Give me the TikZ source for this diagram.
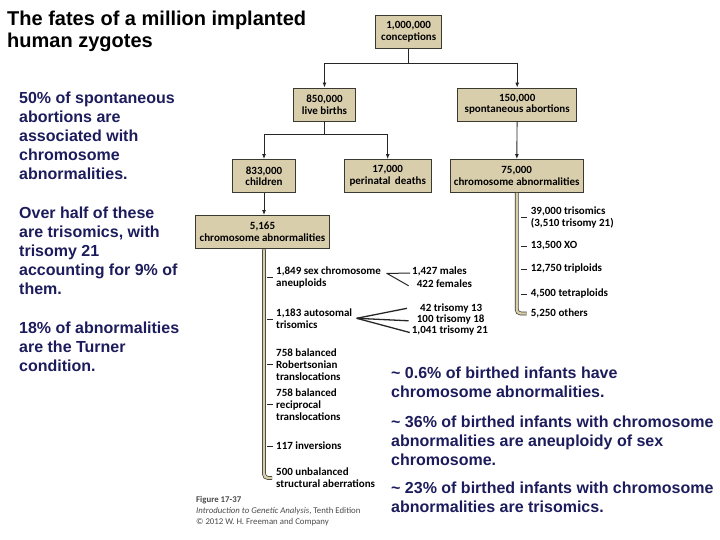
\documentclass[tikz,border=0pt]{standalone}
\usepackage{fontspec}
\setmainfont{Liberation Sans}
\newfontfamily\figfont{Carlito}
\usetikzlibrary{arrows.meta, positioning}
\definecolor{boxfill}{HTML}{D9CEAC}
\definecolor{boxbdr} {HTML}{3A3A32}
\definecolor{notecol}{HTML}{1C1C5C}
\definecolor{capcol} {HTML}{4A4A4A}

\tikzset{
  fatebox/.style={draw=boxbdr, fill=boxfill, line width=0.9pt, minimum height=33pt,
    inner sep=1pt, align=center, font=\figfont\bfseries\fontsize{11}{11.5}\selectfont},
  arr/.style={draw=black!85, line width=0.9pt, -{Latex[length=5pt,width=4pt]}},
  trunk/.style={draw=boxbdr, line width=0.7pt, double=boxfill, double distance=2.4pt},
  tickln/.style={draw=black!85, line width=1pt},
  splitln/.style={draw=black!85, line width=1pt},
  item/.style={anchor=west, inner sep=0pt, align=left,
    font=\figfont\bfseries\fontsize{11}{11.7}\selectfont},
  note/.style={anchor=north west, inner sep=0pt, align=left, text=notecol,
    font=\bfseries\fontsize{16}{19}\selectfont},
}

\begin{document}
\begin{tikzpicture}[x=1pt, y=-1pt]
  \useasboundingbox (0,0) rectangle (720,540);

  % title and notes
  \node[anchor=north west, inner sep=0pt, align=left, font=\bfseries\fontsize{20}{22}\selectfont]
    (title) at (7,10.5) {The fates of a million implanted\\human zygotes};
  \node[note] (noteA) at (19,91.5)
    {50\% of spontaneous\\abortions are\\associated with\\chromosome\\abnormalities.};
  \node[note] (noteB) at (19,206.5)
    {Over half of these\\are trisomics, with\\trisomy 21\\accounting for 9\% of\\them.};
  \node[note] (noteC) at (19,321.5)
    {18\% of abnormalities\\are the Turner\\condition.};
  \node[note] (noteD) at (391,366.5)
    {\textasciitilde{} 0.6\% of birthed infants have\\chromosome abnormalities.};
  \node[note] (noteE) at (391,415.5)
    {\textasciitilde{} 36\% of birthed infants with chromosome\\abnormalities are aneuploidy of sex\\chromosome.};
  \node[note] (noteF) at (391,481.5)
    {\textasciitilde{} 23\% of birthed infants with chromosome\\abnormalities are trisomics.};

  % boxes
  \node[fatebox, minimum width=66pt] (concep) at (408.7,32) {1,000,000\\conceptions};
  \node[fatebox, minimum width=62pt] (live)   at (324.5,104.5) {850,000\\live births};
  \node[fatebox, minimum width=119pt] (spont) at (517.2,104.5) {150,000\\spontaneous abortions};
  \node[fatebox, minimum width=63pt] (child)  at (264,176) {833,000\\children};
  \node[fatebox, minimum width=87pt] (peri)   at (387.7,176) {17,000\\perinatal\, deaths};
  \node[fatebox, minimum width=133pt] (abnA)  at (516.7,176) {75,000\\chromosome abnormalities};
  \node[fatebox, minimum width=134pt] (abnB)  at (262.5,232) {5,165\\chromosome abnormalities};

  % branches
  \draw[arr] (concep.south) -- ++(0,14.3) -| (live.north);
  \draw[arr] (concep.south) -- ++(0,14.3) -| (spont.north);
  \draw[arr] (live.south) -- ++(0,13.3) -| (child.north);
  \draw[arr] (live.south) -- ++(0,13.3) -| (peri.north);
  \draw[arr] (spont) -- (abnA);
  \draw[arr] (child.south) -- (child.south |- abnB.north);

  % live-born abnormalities
  \node[item] (sexan) at (276,277.5) {1,849 sex chromosome\\aneuploids};
  \node[item] (auto)  at (276,319)   {1,183 autosomal\\trisomics};
  \node[item] (robt)  at (276,364.5) {758 balanced\\Robertsonian\\translocations};
  \node[item] (recip) at (276,404.5) {758 balanced\\reciprocal\\translocations};
  \node[item] (inv)   at (276,446)   {117 inversions};
  \node[item] (unbal) at (276,478)   {500 unbalanced\\structural aberrations};
  \coordinate (trunkB) at (264,249.3);
  \draw[trunk, rounded corners=4pt] (trunkB) |- ([xshift=-4pt]unbal.west);
  \foreach \it in {sexan,auto,robt,recip,inv}
    \draw[tickln] ([xshift=-9pt]\it.west) -- ([xshift=-3pt]\it.west);

  \node[item] (males)   at (412,271.7) {1,427 males};
  \node[item] (females) at (416.7,283.3) {422 females};
  \coordinate (sexapex) at (386.7,273.3);
  \draw[splitln] (sexapex) -- ([xshift=-2pt, yshift=-1.5pt]males.west);
  \draw[splitln] (sexapex) -- ([xshift=-8pt, yshift=-2.5pt]females.west);

  \node[item] (triA) at (420,308.3) {42 trisomy 13};
  \node[item] (triB) at (416.7,319.3) {100 trisomy 18};
  \node[item] (triC) at (411.7,331) {1,041 trisomy 21};
  \coordinate (autoapex) at (356.7,318.3);
  \draw[splitln, line width=1.3pt] (autoapex) -- ([xshift=-13pt]triA.west);
  \draw[splitln, line width=1.3pt] (autoapex) -- ([xshift=-8pt, yshift=-1.5pt]triB.west);
  \draw[splitln, line width=1.3pt] (autoapex) -- ([xshift=-2pt, yshift=-1.5pt]triC.west);

  % aborted abnormalities
  \node[item] (trisom) at (530.7,217.5) {39,000 trisomics\\(3,510 trisomy 21)};
  \node[item] (xo)     at (530.7,246)   {13,500 XO};
  \node[item] (tripl)  at (530.7,269)   {12,750 triploids};
  \node[item] (tetra)  at (530.7,294)   {4,500 tetraploids};
  \node[item] (others) at (530.7,313.5) {5,250 others};
  \draw[trunk, rounded corners=4pt] (abnA.south) |- ([xshift=-4pt]others.west);
  \foreach \it in {trisom,xo,tripl,tetra}
    \draw[tickln] ([xshift=-10pt]\it.west) -- ([xshift=-4pt]\it.west);

  % caption
  \node[anchor=north west, inner sep=0pt, align=left, text=capcol,
    font=\figfont\fontsize{8.8}{11.3}\selectfont] (caption) at (196,496)
    {\textbf{Figure 17-37}\\\textit{Introduction to Genetic Analysis}, Tenth Edition\\\textcopyright{} 2012 W. H. Freeman and Company};
\end{tikzpicture}
\end{document}
